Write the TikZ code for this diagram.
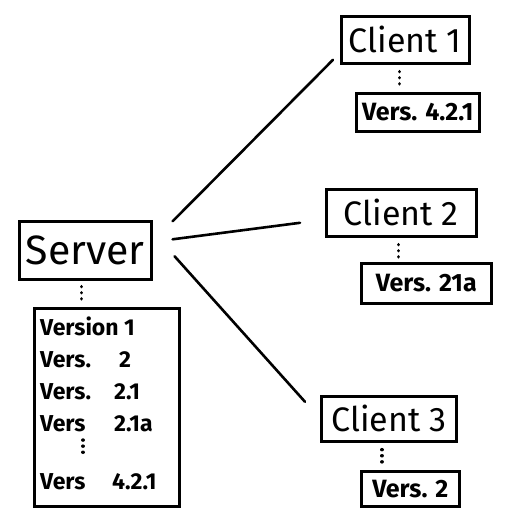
\documentclass[tikz,border=0pt]{standalone}
\usepackage{fontspec}
\setmainfont{Fira Sans}
\usetikzlibrary{calc}
\begin{document}
\begin{tikzpicture}[x=1pt,y=-1pt,
  box/.style={draw, rectangle, line width=2.6pt, inner sep=0pt, anchor=north west},
  bigtext/.style={font=\fontsize{41}{44}\selectfont},
  midtext/.style={font=\fontsize{34}{36}\selectfont},
  smalltext/.style={font=\fontsize{25}{28}\selectfont\bfseries},
  listtext/.style={font=\fontsize{23}{26}\selectfont\bfseries, anchor=west, inner sep=0pt},
  dotline/.style={line width=3.4pt, dash pattern=on 0.1pt off 6pt, line cap=round},
  link/.style={line width=2.6pt, line cap=round}]
\useasboundingbox (0,0) rectangle (505,523);

% server and its version list
\node[box, bigtext, minimum width=132pt, minimum height=58pt] (server) at (18,220) {Server};
\node[box, minimum width=145pt, minimum height=198pt] (list) at (33,307) {};
\node[listtext] (l1) at (40,326) {Version 1};
\node[listtext] (l2a) at (40,360) {Vers.};
\node[listtext] (l2b) at (119,360) {2};
\node[listtext] (l3a) at (40,392) {Vers.};
\node[listtext] (l3b) at (114,392) {2.1};
\node[listtext] (l4a) at (40,424) {Vers};
\node[listtext] (l4b) at (114,424) {2.1a};
\node[listtext] (l5a) at (40,482) {Vers};
\node[listtext] (l5b) at (112,482) {4.2.1};
\coordinate (vd1) at (83,440);
\coordinate (vd2) at (83,458);
\draw[dotline] (vd1) -- (vd2);

% clients
\node[box, midtext, minimum width=128pt, minimum height=47pt] (c1) at (340,15) {Client 1};
\node[box, smalltext, minimum width=123pt, minimum height=38pt] (v1) at (355,92) {Vers. 4.2.1};
\node[box, midtext, minimum width=150pt, minimum height=47pt] (c2) at (325,188) {Client 2};
\node[box, smalltext, minimum width=130pt, minimum height=40pt] (v2) at (360,262) {Vers. 21a};
\node[box, midtext, minimum width=135pt, minimum height=45pt] (c3) at (320,395) {Client 3};
\node[box, smalltext, minimum width=98pt, minimum height=35pt] (v3) at (360,470) {Vers. 2};

% dotted links
\draw[dotline] ($(server.south)+(-4,6)$) -- ($(server.south |- list.north)+(-4,-3)$);
\draw[dotline] ($(c1.south)+(-6,7)$) -- ($(c1.south |- v1.north)+(-6,-4)$);
\draw[dotline] ($(c2.south)+(-3,7)$) -- ($(c2.south |- v2.north)+(-3,-3)$);
\draw[dotline] ($(c3.south)+(-7,7)$) -- ($(c3.south |- v3.north)+(-7,-4)$);

% connectors
\draw[link] ($(server.east)+(20,-29)$) -- ($(c1.west)+(-7,20)$);
\draw[link] ($(server.east)+(20,-11)$) -- ($(c2.west)+(-25,10)$);
\draw[link] ($(server.east)+(22,6)$) -- ($(c3.west)+(-15,-17)$);
\end{tikzpicture}
\end{document}
